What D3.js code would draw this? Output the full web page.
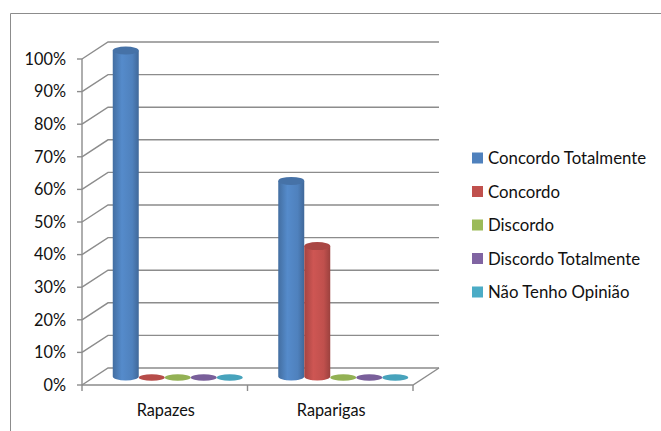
<!DOCTYPE html>
<html>
<head>
<meta charset="utf-8">
<script src="https://cdn.jsdelivr.net/npm/d3@7"></script>
<style>
  html, body { margin: 0; padding: 0; background: #fff; }
  svg { display: block; }
  text { font-family: Lato, "Open Sans", sans-serif; fill: #111; }
</style>
</head>
<body>
<svg id="chart" width="661" height="431"></svg>
<script>
// Survey answers by group (share of respondents)
const categories = ["Rapazes", "Raparigas"];
const series = ["Concordo Totalmente", "Concordo", "Discordo", "Discordo Totalmente", "Não Tenho Opinião"];
const concordoTotalmente = [1.00, 0.60];
const concordo = [0.00, 0.40];
const discordo = [0.00, 0.00];
const discordoTotalmente = [0.00, 0.00];
const naoTenhoOpiniao = [0.00, 0.00];
const yTicks = [0, 0.1, 0.2, 0.3, 0.4, 0.5, 0.6, 0.7, 0.8, 0.9, 1.0];
const colors = ["#4F81BD", "#C0504D", "#9BBB59", "#8064A2", "#4BACC6"];

const values = [concordoTotalmente, concordo, discordo, discordoTotalmente, naoTenhoOpiniao];

const svg = d3.select("#chart");
const gridColor = "#8c8c8c";

// outer frame of the chart area
svg.append("path")
  .attr("d", "M10.5,440 V13.5 H670")
  .attr("fill", "none").attr("stroke", gridColor).attr("stroke-width", 1);

// 3D projection: front plane scales plus an oblique depth offset
const depthX = 26, depthY = -17;
const y = d3.scaleLinear().domain([0, 1]).range([385, 59]);
const x0 = d3.scaleBand().domain(categories).range([82, 413]);
const slotW = 26;
const x1 = d3.scaleBand().domain(series)
  .range([(x0.bandwidth() - slotW * series.length) / 2, (x0.bandwidth() + slotW * series.length) / 2]);

const frontL = x0.range()[0], frontR = x0.range()[1];

// back wall gridlines and their diagonals on the side wall
const grid = svg.append("g").attr("fill", "none").attr("stroke", gridColor).attr("stroke-width", 1.4);
yTicks.forEach(t => {
  const yy = y(t);
  grid.append("path").attr("d",
    `M${frontL},${yy} L${frontL + depthX},${yy + depthY} L${frontR + depthX},${yy + depthY}`);
});

// floor
grid.append("path").attr("d",
  `M${frontL},${y(0)} L${frontR},${y(0)} L${frontR + depthX},${y(0) + depthY}`);

// value axis line and ticks
grid.append("line").attr("x1", frontL).attr("x2", frontL).attr("y1", y(1)).attr("y2", y(0));
yTicks.forEach(t => {
  grid.append("line").attr("x1", frontL - 5).attr("x2", frontL).attr("y1", y(t)).attr("y2", y(t));
});
// category ticks
[frontL, frontL + x0.bandwidth(), frontR].forEach(xx => {
  grid.append("line").attr("x1", xx).attr("x2", xx).attr("y1", y(0)).attr("y2", y(0) + 6);
});

// value axis labels
svg.append("g").selectAll("text").data(yTicks).join("text")
  .attr("x", 66).attr("y", d => y(d)).attr("dy", "0.36em")
  .attr("text-anchor", "end").attr("font-size", 16.3)
  .text(d => d3.format(".0%")(d));

// category labels
svg.append("g").selectAll("text").data(categories).join("text")
  .attr("x", d => x0(d) + x0.bandwidth() / 2 + 1).attr("y", 410).attr("dy", "0.36em")
  .attr("text-anchor", "middle").attr("font-size", 16.3)
  .text(d => d);

// cylinder shading gradients
const defs = svg.append("defs");
colors.forEach((c, i) => {
  const base = d3.color(c);
  const g = defs.append("linearGradient").attr("id", "cyl" + i)
    .attr("x1", "0").attr("x2", "1").attr("y1", "0").attr("y2", "0");
  g.append("stop").attr("offset", "0").attr("stop-color", base.darker(0.45));
  g.append("stop").attr("offset", "0.35").attr("stop-color", base.brighter(0.2));
  g.append("stop").attr("offset", "0.75").attr("stop-color", base);
  g.append("stop").attr("offset", "1").attr("stop-color", base.darker(0.6));
});

// cylinders, placed at mid depth
const rx = slotW / 2, ry = 4;
const midY = v => y(v) + depthY / 2;
const bars = svg.append("g");
categories.forEach((cat, ci) => {
  series.forEach((s, si) => {
    const v = values[si][ci];
    const cx = x0(cat) + x1(s) + slotW / 2 + depthX / 2;
    const yb = midY(0), yt = midY(v);
    const col = d3.color(colors[si]);
    if (v > 0) {
      bars.append("path")
        .attr("d", `M${cx - rx},${yt} L${cx - rx},${yb} A${rx},${ry} 0 0 0 ${cx + rx},${yb} L${cx + rx},${yt} Z`)
        .attr("fill", `url(#cyl${si})`);
      bars.append("ellipse")
        .attr("cx", cx).attr("cy", yt).attr("rx", rx).attr("ry", ry)
        .attr("fill", col.darker(0.35));
    } else {
      bars.append("ellipse")
        .attr("cx", cx).attr("cy", yb + 1).attr("rx", rx).attr("ry", 3.2)
        .attr("fill", col.darker(0.15));
    }
  });
});

// legend
const legend = svg.append("g");
series.forEach((s, i) => {
  const ly = 158 + i * 33.5;
  legend.append("rect").attr("x", 472).attr("y", ly - 5.5).attr("width", 11).attr("height", 11)
    .attr("fill", colors[i]);
  legend.append("text").attr("x", 488).attr("y", ly).attr("dy", "0.36em")
    .attr("font-size", 16.8).text(s);
});
</script>
</body>
</html>
